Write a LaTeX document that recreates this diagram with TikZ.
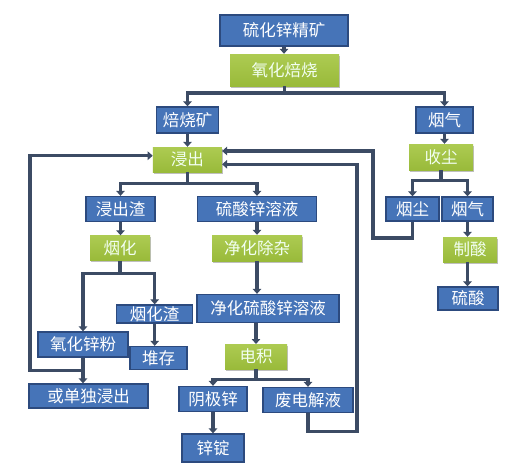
\documentclass[tikz,border=0pt]{standalone}
\usepackage{fontspec}
\setmainfont{Noto Sans CJK SC}
\usetikzlibrary{arrows.meta,shadows,calc}
\definecolor{boxblue}{HTML}{4674B8}
\definecolor{boxblueedge}{HTML}{2C4A7E}
\definecolor{boxgreen}{HTML}{99BA3A}
\definecolor{boxgreentop}{HTML}{ADCB52}
\definecolor{linecol}{HTML}{3C4B64}
\tikzset{
  bx/.style={inner sep=0pt, font=\fontsize{16.5}{18}\selectfont, text=white},
  bluebox/.style={bx, rectangle, fill=boxblue, draw=boxblueedge, line width=1.3pt},
  greenbox/.style={bx, rectangle, top color=boxgreentop, bottom color=boxgreen, draw=none, text=white!95!green,
     drop shadow={shadow xshift=1.2pt, shadow yshift=-1.5pt, opacity=0.25, fill=black}},
  ln/.style={draw=linecol, line width=3.2pt, line join=miter},
  arr/.style={ln, -{Triangle[length=5pt,width=8.5pt]}},
}
\begin{document}
\begin{tikzpicture}[x=1pt,y=-1pt]
\useasboundingbox[fill=white] (0,0) rectangle (532,472);
% nodes
\node[bluebox, minimum width=128, minimum height=31] (top) at (284,30.5) {硫化锌精矿};
\node[greenbox, minimum width=109, minimum height=32] (yhbs) at (284.5,70) {氧化焙烧};
\node[bluebox, minimum width=62, minimum height=26] (bsk) at (187.5,120) {焙烧矿};
\node[bluebox, minimum width=57, minimum height=26] (yq1) at (444.5,120) {烟气};
\node[greenbox, minimum width=69, minimum height=25] (jc) at (187.4,159.5) {浸出};
\node[greenbox, minimum width=64, minimum height=26] (sc) at (441,157) {收尘};
\node[bluebox, minimum width=69, minimum height=25] (jcz) at (120.5,209) {浸出渣};
\node[bluebox, minimum width=119, minimum height=25] (lsx) at (257,209) {硫酸锌溶液};
\node[bluebox, minimum width=53, minimum height=24] (yc) at (412.5,209) {烟尘};
\node[bluebox, minimum width=51, minimum height=24] (yq2) at (467.5,209) {烟气};
\node[greenbox, minimum width=60, minimum height=25] (yh) at (120,248) {烟化};
\node[greenbox, minimum width=90, minimum height=26] (jhcz) at (257,248) {净化除杂};
\node[greenbox, minimum width=54, minimum height=25] (zs) at (470,249.5) {制酸};
\node[bluebox, minimum width=60, minimum height=23] (ls) at (468,298.5) {硫酸};
\node[bluebox, minimum width=76, minimum height=18] (ych) at (154.7,314) {烟化渣};
\node[bluebox, minimum width=142, minimum height=28] (jhlsx) at (268,308.5) {净化硫酸锌溶液};
\node[bluebox, minimum width=90, minimum height=25] (yhxf) at (83,344.5) {氧化锌粉};
\node[bluebox, minimum width=57, minimum height=23] (dc) at (158.5,358) {堆存};
\node[greenbox, minimum width=62, minimum height=25] (dj) at (256,356.7) {电积};
\node[bluebox, minimum width=119, minimum height=24] (dujc) at (88.5,396) {或单独浸出};
\node[bluebox, minimum width=68, minimum height=25] (yjx) at (213,399) {阴极锌};
\node[bluebox, minimum width=90, minimum height=25] (fdj) at (308,400) {废电解液};
\node[bluebox, minimum width=62, minimum height=28] (xd) at (213,448) {锌锭};
% junctions
\coordinate (j1) at (284.5,93);
\coordinate (j2) at (187.4,183.3);
\coordinate (j3) at (120,273.3);
\coordinate (j4) at (256,379.3);
\coordinate (j5) at (441,180.7);
\coordinate (l1) at (30,370.7);
\coordinate (l2) at (30,155.7);
\coordinate (r1) at (357,431.7);
\coordinate (r2) at (357,164.3);
\coordinate (s1) at (373,238);
\coordinate (s2) at (373,151);
% connectors
\draw[arr] (top.south) -- (top.south |- yhbs.north);
\draw[ln] (yhbs.south) -- (j1);
\draw[arr] (j1) -| (bsk.north);
\draw[arr] (j1) -| (yq1.north);
\draw[arr] (bsk.south) -- (bsk.south |- jc.north);
\draw[arr] (yq1.south) -- (yq1.south |- sc.north);
\draw[ln] (jc.south) -- (j2);
\draw[arr] (j2) -| (jcz.north);
\draw[arr] (j2) -| (lsx.north);
\draw[arr] (jcz.south) -- (jcz.south |- yh.north);
\draw[arr] (lsx.south) -- (lsx.south |- jhcz.north);
\draw[arr] (jhcz.south) -- (jhcz.south |- jhlsx.north);
\draw[ln] (yh.south) -- (j3);
\draw[arr] (j3) -| (yhxf.north);
\draw[arr] (j3) -| (ych.north);
\draw[arr] (ych.south) -- (ych.south |- dc.north);
\draw[arr] (yhxf.south) -- (yhxf.south |- dujc.north);
\draw[arr] (yhxf.south |- l1) -- (l1) -- (l2) -- (l2 -| jc.west);
\draw[arr] (dj.north |- jhlsx.south) -- (dj.north);
\draw[ln] (dj.south) -- (j4);
\draw[arr] (j4) -| (yjx.north);
\draw[arr] (j4) -| (fdj.north);
\draw[arr] (yjx.south) -- (yjx.south |- xd.north);
\draw[arr] (fdj.south) -- (fdj.south |- r1) -- (r1) -- (r2) -- (r2 -| jc.east);
\draw[ln] (sc.south) -- (j5);
\draw[arr] (j5) -| (yc.north);
\draw[arr] (j5) -| (yq2.north);
\draw[arr] (yc.south) -- (yc.south |- s1) -- (s1) -- (s2) -- (s2 -| jc.east);
\draw[arr] (yq2.south) -- (yq2.south |- zs.north);
\draw[arr] (yq2.south |- zs.south) -- (yq2.south |- ls.north);
\end{tikzpicture}
\end{document}
